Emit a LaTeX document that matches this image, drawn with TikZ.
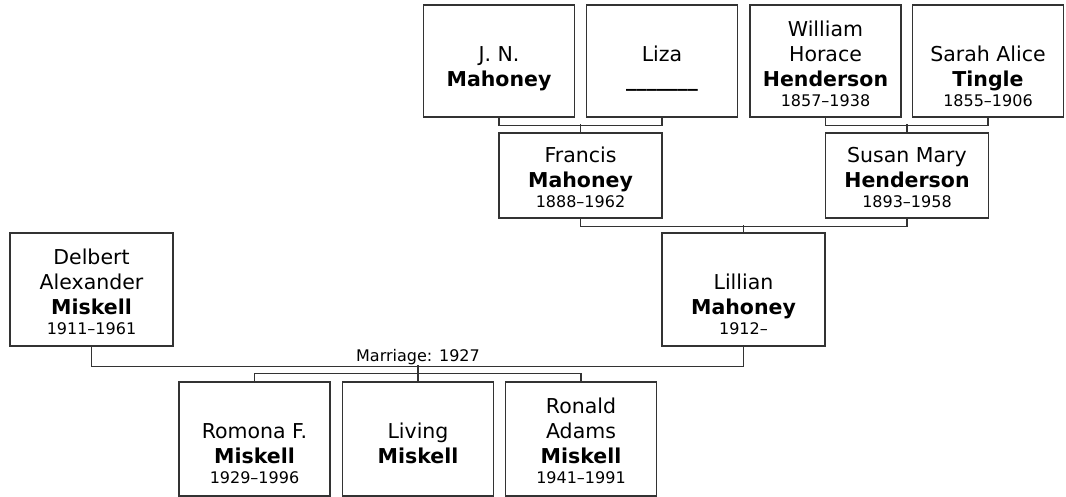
\documentclass[tikz,border=0pt]{standalone}
\usepackage{fontspec}
\setmainfont{DejaVu Sans}
\newcommand{\yrs}[1]{{\fontsize{16}{20}\selectfont\strut #1}}

\begin{document}
\begin{tikzpicture}[x=1pt,y=-1pt,
  box/.style={draw=black!80, line width=1.3pt, fill=white, inner sep=0pt},
  who/.style={anchor=south, inner sep=0pt, align=center, font=\fontsize{20.5}{25}\selectfont},
  link/.style={draw=black!80, line width=1.3pt},
  marr/.style={anchor=base, inner sep=0pt, font=\fontsize{16}{20}\selectfont}]
\fill[white] (0,0) rectangle (1066,493);
% grandparents
\node[box, minimum width=151pt, minimum height=112pt] (jn) at (499,61) {};
\node[who] (jn-t) at ([yshift=5pt]jn.south) {J. N.\\\textbf{Mahoney}\\[-5pt]\yrs{}};
\node[box, minimum width=151pt, minimum height=112pt] (liza) at (662,61) {};
\node[who] (liza-t) at ([yshift=5pt]liza.south) {Liza\\\textbf{\_\_\_\_\_\_\_}\\[-5pt]\yrs{}};
\node[box, minimum width=151pt, minimum height=112pt] (william) at (825.5,61) {};
\node[who] (william-t) at ([yshift=5pt]william.south) {William\\Horace\\\textbf{Henderson}\\[-5pt]\yrs{1857–1938}};
\node[box, minimum width=151pt, minimum height=112pt] (sarah) at (988,61) {};
\node[who] (sarah-t) at ([yshift=5pt]sarah.south) {Sarah Alice\\\textbf{Tingle}\\[-5pt]\yrs{1855–1906}};
% parents
\node[box, minimum width=163pt, minimum height=85pt] (francis) at (580.5,175.5) {};
\node[who] (francis-t) at ([yshift=5pt]francis.south) {Francis\\\textbf{Mahoney}\\[-5pt]\yrs{1888–1962}};
\node[box, minimum width=163pt, minimum height=85pt] (susan) at (907,175.5) {};
\node[who] (susan-t) at ([yshift=5pt]susan.south) {Susan Mary\\\textbf{Henderson}\\[-5pt]\yrs{1893–1958}};
% couple
\node[box, minimum width=163pt, minimum height=113pt] (delbert) at (91.5,289.5) {};
\node[who] (delbert-t) at ([yshift=6pt]delbert.south) {Delbert\\Alexander\\\textbf{Miskell}\\[-5pt]\yrs{1911–1961}};
\node[box, minimum width=163pt, minimum height=113pt] (lillian) at (743.5,289.5) {};
\node[who] (lillian-t) at ([yshift=6pt]lillian.south) {Lillian\\\textbf{Mahoney}\\[-5pt]\yrs{1912–}};
% children
\node[box, minimum width=151pt, minimum height=114pt] (romona) at (254.5,439) {};
\node[who] (romona-t) at ([yshift=7pt]romona.south) {Romona F.\\\textbf{Miskell}\\[-5pt]\yrs{1929–1996}};
\node[box, minimum width=151pt, minimum height=114pt] (living) at (418,439) {};
\node[who] (living-t) at ([yshift=7pt]living.south) {Living\\\textbf{Miskell}\\[-5pt]\yrs{}};
\node[box, minimum width=151pt, minimum height=114pt] (ronald) at (581,439) {};
\node[who] (ronald-t) at ([yshift=7pt]ronald.south) {Ronald\\Adams\\\textbf{Miskell}\\[-5pt]\yrs{1941–1991}};
\node[marr] (wed) at ([yshift=20pt]living.north) {Marriage: 1927};

\draw[link] (jn.south) -- ++(0,8) -| (liza.south);
\draw[link] (francis.north) -- ++(0,-8);
\draw[link] (william.south) -- ++(0,8) -| (sarah.south);
\draw[link] (susan.north) -- ++(0,-8);
\draw[link] (francis.south) -- ++(0,8) -| (susan.south);
\draw[link] (lillian.north) -- ++(0,-7);
\draw[link] (delbert.south) -- ++(0,20) -| (lillian.south);
\draw[link] (living.north) -- ++(0,-16);
\draw[link] (romona.north) -- ++(0,-8) -| (ronald.north);
\end{tikzpicture}
\end{document}
